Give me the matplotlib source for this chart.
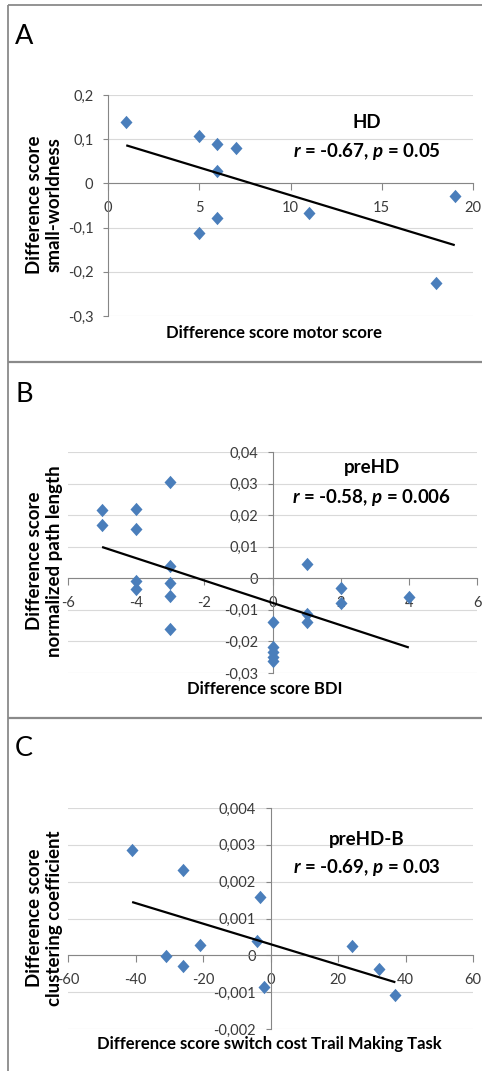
import numpy as np
import matplotlib
matplotlib.use('Agg')
import matplotlib.pyplot as plt
from matplotlib.lines import Line2D

plt.rcParams['font.family'] = ['Lato', 'DejaVu Sans']
plt.rcParams['mathtext.fontset'] = 'custom'
plt.rcParams['mathtext.it'] = 'Lato:italic:bold'
plt.rcParams['mathtext.rm'] = 'Lato:bold'
plt.rcParams['mathtext.bf'] = 'Lato:bold'

# ---------------- Panel A (HD) ----------------
a_motor = [1, 5, 6, 7, 6, 5, 6, 11, 18, 19]
a_smallworld = [0.140, 0.107, 0.090, 0.080, 0.028, -0.112, -0.078, -0.068, -0.226, -0.028]
a_xticks = [0, 5, 10, 15, 20]
a_xticklabels = ['0', '5', '10', '15', '20']
a_yticks = [-0.3, -0.2, -0.1, 0.0, 0.1, 0.2]
a_yticklabels = ['-0,3', '-0,2', '-0,1', '0', '0,1', '0,2']

# ---------------- Panel B (preHD) ----------------
b_bdi = [-5, -5, -4, -4, -3, -4, -4, -3, -3, -3, -3,
         0, 0, 0, 0, 0, 1, 1, 1, 2, 2, 4]
b_pathlength = [0.0215, 0.0170, 0.0220, 0.0155, 0.0305, -0.0010, -0.0035, 0.0040, -0.0015, -0.0055, -0.0162,
                -0.0138, -0.0218, -0.0235, -0.0250, -0.0262, 0.0046, -0.0113, -0.0140, -0.0030, -0.0079, -0.0059]
b_xticks = [-6, -4, -2, 0, 2, 4, 6]
b_xticklabels = ['-6', '-4', '-2', '0', '2', '4', '6']
b_yticks = [-0.03, -0.02, -0.01, 0.0, 0.01, 0.02, 0.03, 0.04]
b_yticklabels = ['-0,03', '-0,02', '-0,01', '0', '0,01', '0,02', '0,03', '0,04']

# ---------------- Panel C (preHD-B) ----------------
c_tmt = [-41, -26, -3, -21, -31, -26, -4, -2, 24, 32, 37]
c_clustering = [0.00287, 0.00231, 0.00159, 0.00028, -0.00003, -0.00030, 0.00039, -0.00086, 0.00025, -0.00038, -0.00109]
c_xticks = [-60, -40, -20, 0, 20, 40, 60]
c_xticklabels = ['-60', '-40', '-20', '0', '20', '40', '60']
c_yticks = [-0.002, -0.001, 0.0, 0.001, 0.002, 0.003, 0.004]
c_yticklabels = ['-0,002', '-0,001', '0', '0,001', '0,002', '0,003', '0,004']

W, H = 483, 1071
fig = plt.figure(figsize=(W / 100, H / 100), dpi=100)
fig.patch.set_facecolor('white')

MARKER_COLOR = '#4a7ebb'
AXIS_COLOR = '#868686'
GRID_COLOR = '#d9d9d9'
TICK_TEXT = '#3a3a3a'
DIAMOND = [(0, 1), (0.9, 0), (0, -1), (-0.9, 0), (0, 1)]


def px_axes(left, top, right, bottom):
    return fig.add_axes([left / W, 1 - bottom / H, (right - left) / W, (bottom - top) / H])


def fx(x):
    return x / W


def fy(y):
    return 1 - y / H


def style(ax, xlim, ylim, xticks, xtl, yticks, ytl):
    ax.set_xlim(*xlim)
    ax.set_ylim(*ylim)
    ax.patch.set_alpha(0)
    for s in ['top', 'right']:
        ax.spines[s].set_visible(False)
    ax.spines['left'].set_position(('data', 0))
    ax.spines['bottom'].set_position(('data', 0))
    for s in ['left', 'bottom']:
        ax.spines[s].set_color(AXIS_COLOR)
        ax.spines[s].set_linewidth(0.8)
    ax.set_xticks(xticks)
    ax.set_xticklabels(xtl)
    ax.set_yticks(yticks)
    ax.set_yticklabels(ytl)
    ax.tick_params(axis='x', direction='out', length=5, width=0.8, color=AXIS_COLOR,
                   labelcolor=TICK_TEXT, labelsize=10.5, pad=8)
    ax.tick_params(axis='y', direction='out', length=3.5, width=0.8, color=AXIS_COLOR,
                   labelcolor=TICK_TEXT, labelsize=10.5, pad=7)
    ax.yaxis.grid(True, color=GRID_COLOR, linewidth=0.8)
    ax.set_axisbelow(True)


def scatter_fit(ax, x, y):
    ax.plot(x, y, linestyle='none', marker=DIAMOND, ms=9.6, color=MARKER_COLOR,
            mec=MARKER_COLOR, mew=0, zorder=3)
    slope, inter = np.polyfit(x, y, 1)
    xs = np.array([min(x), max(x)], dtype=float)
    ax.plot(xs, slope * xs + inter, color='black', lw=1.6, zorder=4, solid_capstyle='butt')


# Panel A
axA = px_axes(108, 95, 473, 316)
style(axA, (0, 20), (-0.3, 0.2), a_xticks, a_xticklabels, a_yticks, a_yticklabels)
scatter_fit(axA, a_motor, a_smallworld)

# Panel B
axB = px_axes(68, 452, 477, 673)
style(axB, (-6, 6), (-0.03, 0.04), b_xticks, b_xticklabels, b_yticks, b_yticklabels)
scatter_fit(axB, b_bdi, b_pathlength)

# Panel C
axC = px_axes(68, 808, 473, 1029)
style(axC, (-60, 60), (-0.002, 0.004), c_xticks, c_xticklabels, c_yticks, c_yticklabels)
scatter_fit(axC, c_tmt, c_clustering)

# Panel letters
for letter, yc in [('A', 37), ('B', 394), ('C', 748)]:
    fig.text(fx(15), fy(yc), letter, fontsize=19.5, ha='left', va='center', color='black')

# Group / statistics annotations
annots = [
    ('HD', r'$r$ = -0.67, $p$ = 0.05', 367, 123, 152),
    ('preHD', r'$r$ = -0.58, $p$ = 0.006', 372, 468, 497),
    ('preHD-B', r'$r$ = -0.69, $p$ = 0.03', 367, 840, 868),
]
for title, stat, xc, y1, y2 in annots:
    fig.text(fx(xc), fy(y1), title, fontsize=13.5, fontweight='bold', ha='center', va='center')
    fig.text(fx(xc), fy(y2), stat, fontsize=13.5, fontweight='bold', ha='center', va='center')

# Axis titles
xlabels = [
    ('Difference score motor score', 274, 333),
    ('Difference score BDI', 265, 689),
    ('Difference score switch cost Trail Making Task', 269, 1044),
]
for txt, xc, yc in xlabels:
    fig.text(fx(xc), fy(yc), txt, fontsize=12, fontweight='bold', ha='center', va='center')

ylabels = [
    ('Difference score\nsmall-worldness', 205),
    ('Difference score\nnormalized path length', 561),
    ('Difference score\nclustering coefficient', 918),
]
for txt, yc in ylabels:
    fig.text(fx(44.5), fy(yc), txt, fontsize=13.5, fontweight='bold', ha='center', va='center',
             rotation=90, linespacing=1.2, multialignment='center')

# Panel frames
frame_kw = dict(transform=fig.transFigure, color='#8a8a8a', lw=1.3, solid_capstyle='butt')
fig.add_artist(Line2D([fx(8), fx(482)], [fy(5), fy(5)], **frame_kw))
fig.add_artist(Line2D([fx(8), fx(482)], [fy(361.5), fy(361.5)], **dict(frame_kw, lw=1.6)))
fig.add_artist(Line2D([fx(8), fx(482)], [fy(717.5), fy(717.5)], **dict(frame_kw, lw=1.6)))
fig.add_artist(Line2D([fx(8), fx(8)], [fy(5), fy(1071)], **frame_kw))

fig.savefig('out.png', dpi=100, facecolor='white')
